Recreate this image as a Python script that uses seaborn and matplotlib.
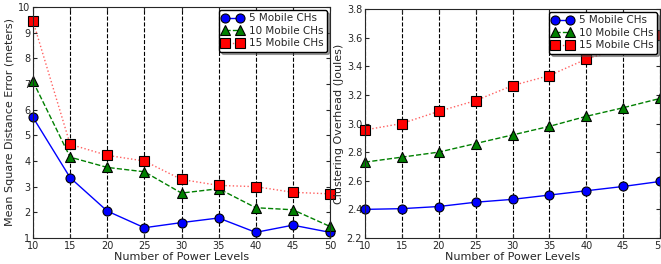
import pandas as pd
import matplotlib
matplotlib.use("Agg")
import matplotlib.pyplot as plt
import seaborn as sns

levels = [10, 15, 20, 25, 30, 35, 40, 45, 50]
series_names = ["5 Mobile CHs", "10 Mobile CHs", "15 Mobile CHs"]

mse_5 = [5.7, 3.35, 2.05, 1.4, 1.6, 1.78, 1.22, 1.5, 1.22]
mse_10 = [7.1, 4.15, 3.75, 3.58, 2.75, 2.92, 2.18, 2.1, 1.45]
mse_15 = [9.45, 4.65, 4.22, 4.0, 3.28, 3.05, 3.0, 2.78, 2.72]

ovh_5 = [2.40, 2.405, 2.42, 2.45, 2.47, 2.50, 2.53, 2.56, 2.595]
ovh_10 = [2.73, 2.765, 2.80, 2.86, 2.92, 2.98, 3.05, 3.11, 3.175]
ovh_15 = [2.955, 3.00, 3.085, 3.16, 3.265, 3.335, 3.45, 3.53, 3.62]

styles = [
    dict(line="b", face="b", marker="o", linestyle="-"),
    dict(line="g", face="g", marker="^", linestyle="--"),
    dict(line="#ff6060", face="r", marker="s", linestyle=":"),
]

sns.set_style("ticks")
plt.rcParams["font.family"] = ["DejaVu Sans"]
plt.rcParams["xtick.direction"] = "in"
plt.rcParams["ytick.direction"] = "in"

fig = plt.figure(figsize=(6.61, 2.64), dpi=100)
ax1 = fig.add_axes([33 / 661, 26 / 264, 297 / 661, 231 / 264])
ax2 = fig.add_axes([365 / 661, 26 / 264, 295 / 661, 229 / 264])


def draw(ax, values, ylabel, ylim, yticks, fmt):
    for name, vals, st in zip(series_names, values, styles):
        df = pd.DataFrame({"x": levels, "y": vals})
        sns.lineplot(data=df, x="x", y="y", ax=ax, color=st["line"],
                     linestyle=st["linestyle"], marker=st["marker"],
                     markerfacecolor=st["face"],
                     markersize=6.5, markeredgecolor="k", markeredgewidth=0.8,
                     linewidth=1.0, label=name, clip_on=False, zorder=3)
    ax.set_xlim(10, 50)
    ax.set_ylim(*ylim)
    ax.set_xticks(levels)
    ax.set_yticks(yticks)
    ax.set_yticklabels([fmt.format(v) for v in yticks])
    ax.tick_params(labelsize=7, length=3, pad=2, top=True, right=True)
    ax.xaxis.grid(True, linestyle="--", color="k", linewidth=0.8)
    ax.set_xlabel("Number of Power Levels", fontsize=8, labelpad=1)
    ax.set_ylabel(ylabel, fontsize=8, labelpad=2)
    for sp in ax.spines.values():
        sp.set_linewidth(0.8)
        sp.set_zorder(5)
    leg = ax.legend(loc="upper right", numpoints=2, fancybox=True, shadow=True,
                    fontsize=7.5, framealpha=1, edgecolor="k",
                    handlelength=2.0, borderpad=0.3, labelspacing=0.25,
                    handletextpad=0.6, borderaxespad=0.3)
    leg.set_zorder(10)


draw(ax1, [mse_5, mse_10, mse_15], "Mean Square Distance Error (meters)",
     (1, 10), list(range(1, 11)), "{:d}")
draw(ax2, [ovh_5, ovh_10, ovh_15], "Clustering Overhead (Joules)",
     (2.2, 3.8), [2.2, 2.4, 2.6, 2.8, 3.0, 3.2, 3.4, 3.6, 3.8], "{:.1f}")

fig.savefig("out.png", dpi=100)
